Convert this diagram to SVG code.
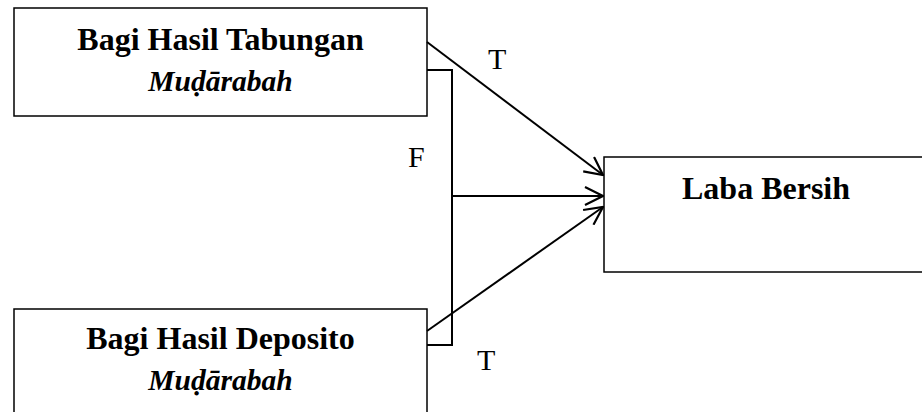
<svg xmlns="http://www.w3.org/2000/svg" width="922" height="412" viewBox="0 0 922 412">
  <style>
    .box { fill: #fff; stroke: #000; stroke-width: 1.5; }
    .title { font-family: "Liberation Serif", "Times New Roman", serif; font-size: 32px; font-weight: bold; text-anchor: middle; fill: #000; }
    .sub { font-family: "Liberation Serif", "Times New Roman", serif; font-size: 29.5px; font-style: italic; font-weight: bold; text-anchor: middle; fill: #000; }
    .lbl { font-family: "Liberation Serif", "Times New Roman", serif; font-size: 30px; fill: #000; }
    .edge { fill: none; stroke: #000; stroke-width: 2; }
  </style>
  <defs>
    <marker id="arrow" viewBox="0 0 20 20" refX="19" refY="10" markerWidth="20" markerHeight="20" markerUnits="userSpaceOnUse" orient="auto">
      <path d="M1,1 L19,10 L1,19" fill="none" stroke="#000" stroke-width="2.2"/>
    </marker>
  </defs>
  <rect width="922" height="412" fill="#fff"/>

  <g id="tabungan">
    <rect class="box" x="14" y="8" width="413" height="108"/>
    <text class="title" x="220.5" y="50">Bagi Hasil Tabungan</text>
    <text class="sub" x="220.5" y="91">Muḍārabah</text>
  </g>

  <g id="deposito">
    <rect class="box" x="14" y="309" width="413" height="110"/>
    <text class="title" x="220.5" y="349">Bagi Hasil Deposito</text>
    <text class="sub" x="220.5" y="390">Muḍārabah</text>
  </g>

  <g id="laba">
    <rect class="box" x="604" y="157" width="330" height="115"/>
    <text class="title" x="766" y="199">Laba Bersih</text>
  </g>

  <g id="connectors">
    <polyline class="edge" points="427,70 452,70 452,345 427,345"/>
    <line class="edge" x1="427" y1="42" x2="603" y2="175" marker-end="url(#arrow)"/>
    <line class="edge" x1="452" y1="196" x2="603" y2="196" marker-end="url(#arrow)"/>
    <line class="edge" x1="427" y1="331" x2="603" y2="207" marker-end="url(#arrow)"/>
    <text class="lbl" x="488" y="69">T</text>
    <text class="lbl" x="408" y="167">F</text>
    <text class="lbl" x="477" y="370">T</text>
  </g>
</svg>
